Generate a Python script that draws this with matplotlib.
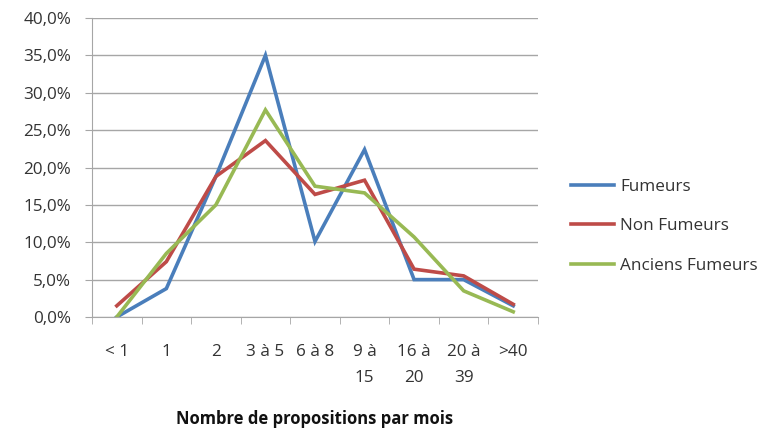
import numpy as np
import matplotlib.pyplot as plt
from matplotlib.ticker import FuncFormatter, MultipleLocator

plt.rcParams['font.family'] = ['Open Sans', 'DejaVu Sans']

categories = ['< 1', '1', '2', '3 à 5', '6 à 8', '9 à\n15', '16 à\n20', '20 à\n39', '>40']
fumeurs = [0.0, 3.8, 18.8, 35.0, 10.1, 22.4, 5.0, 5.0, 1.5]
non_fumeurs = [1.5, 7.4, 18.8, 23.6, 16.4, 18.3, 6.4, 5.5, 1.7]
anciens = [0.0, 8.5, 15.0, 27.7, 17.5, 16.6, 10.7, 3.5, 0.7]

series = [
    ('Fumeurs', fumeurs, '#4A7EBB'),
    ('Non Fumeurs', non_fumeurs, '#BE4B48'),
    ('Anciens Fumeurs', anciens, '#98B954'),
]

fig = plt.figure(figsize=(7.75, 4.3), dpi=100)
ax = fig.add_axes([92 / 775, 113 / 430, 446 / 775, 299 / 430])

x = np.arange(len(categories))
for nom, vals, couleur in series:
    ax.plot(x, vals, color=couleur, lw=2.6, label=nom, solid_joinstyle='miter')

grille = '#A6A6A6'
texte = '#333333'
ax.set_xlim(-0.5, len(categories) - 0.5)
ax.set_ylim(0, 40)
ax.yaxis.set_major_locator(MultipleLocator(5))
ax.yaxis.set_major_formatter(FuncFormatter(lambda v, p: f'{v:.1f}%'.replace('.', ',')))
ax.yaxis.grid(True, color=grille, lw=1)
ax.set_axisbelow(True)

ax.set_xticks(x)
ax.set_xticklabels(categories, fontsize=12.3, color=texte, linespacing=1.85, va='top')
ax.set_xticks(np.arange(-0.5, len(categories)), minor=True)
ax.tick_params(axis='x', which='major', length=0, pad=19.5)
ax.tick_params(axis='x', which='minor', length=5, color=grille, direction='out')
ax.tick_params(axis='y', length=5, color=grille, labelsize=12.3, labelcolor=texte, pad=10)

for s in ['top', 'right']:
    ax.spines[s].set_visible(False)
for s in ['left', 'bottom']:
    ax.spines[s].set_color(grille)

ax.set_xlabel('Nombre de propositions par mois', fontsize=12, fontweight='bold',
              labelpad=17, color='#111111')

ax.legend(loc='center left', bbox_to_anchor=(1.04, 0.304), frameon=False,
          fontsize=12.3, handlelength=2.5, labelspacing=1.38, handletextpad=0.35,
          labelcolor=texte)

fig.savefig('out.png', dpi=100)
